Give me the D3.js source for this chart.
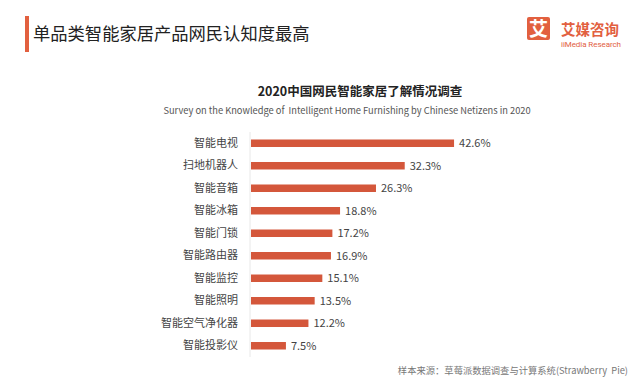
<!DOCTYPE html>
<html>
<head>
<meta charset="utf-8">
<script src="https://cdn.jsdelivr.net/npm/d3@7"></script>
<style>
  body { margin: 0; background: #fff; }
  svg { display: block; font-family: "Noto Sans CJK SC", "Noto Sans", sans-serif; }
  text { white-space: pre; }
</style>
</head>
<body>
<div id="chart"></div>
<script>
// data
var categories = ["智能电视", "扫地机器人", "智能音箱", "智能冰箱", "智能门锁", "智能路由器", "智能监控", "智能照明", "智能空气净化器", "智能投影仪"];
var values = [42.6, 32.3, 26.3, 18.8, 17.2, 16.9, 15.1, 13.5, 12.2, 7.5];

var width = 640, height = 383;
var barColor = "#d4573b";

var svg = d3.select("#chart").append("svg")
    .attr("width", width)
    .attr("height", height);

svg.append("rect").attr("width", width).attr("height", height).attr("fill", "#fff");

// header
svg.append("rect")
    .attr("x", 25).attr("y", 16).attr("width", 4).attr("height", 36)
    .attr("fill", "#e2603f");
svg.append("text")
    .attr("x", 33).attr("y", 40)
    .attr("font-size", 17.3)
    .attr("fill", "#222")
    .text("单品类智能家居产品网民认知度最高");

// logo
var logo = svg.append("g");
logo.append("rect")
    .attr("x", 527).attr("y", 17).attr("width", 23).attr("height", 23).attr("rx", 2)
    .attr("fill", "#e2603f");
logo.append("text")
    .attr("x", 538.5).attr("y", 35.5)
    .attr("text-anchor", "middle")
    .attr("font-size", 19).attr("font-weight", "bold")
    .attr("fill", "#fff")
    .text("艾");
logo.append("text")
    .attr("x", 561).attr("y", 34.5)
    .attr("font-size", 14.5).attr("font-weight", "bold")
    .attr("fill", "#e2603f")
    .text("艾媒咨询");
logo.append("text")
    .attr("x", 561).attr("y", 46.5)
    .attr("font-size", 8)
    .attr("font-family", "Roboto, sans-serif")
    .attr("textLength", 60)
    .attr("fill", "#e2603f")
    .text("iiMedia Research");

// chart titles
svg.append("text")
    .attr("x", 360).attr("y", 96)
    .attr("text-anchor", "middle")
    .attr("font-size", 12.5).attr("font-weight", "bold")
    .attr("fill", "#222")
    .text("2020中国网民智能家居了解情况调查");
svg.append("text")
    .attr("x", 347).attr("y", 114)
    .attr("text-anchor", "middle")
    .attr("font-size", 9.3)
    .attr("fill", "#555")
    .text("Survey on the Knowledge of  Intelligent Home Furnishing by Chinese Netizens in 2020");

// scales
var x = d3.scaleLinear().domain([0, 50]).range([250, 489.5]);
var y = d3.scaleBand().domain(categories).range([132, 357]).paddingInner(0.667).paddingOuter(0.333);

// axis line
svg.append("line")
    .attr("x1", x(0)).attr("x2", x(0))
    .attr("y1", 132).attr("y2", 357)
    .attr("stroke", "#e8e8e8").attr("stroke-width", 1);

// category labels
var yAxis = svg.append("g")
    .attr("transform", "translate(" + (x(0) - 12) + ",0)")
    .call(d3.axisLeft(y).tickSize(0).tickPadding(0));
yAxis.select(".domain").remove();
yAxis.selectAll("text")
    .attr("font-size", 11)
    .attr("fill", "#444")
    .attr("font-family", "Noto Sans CJK SC, sans-serif");

// bars
svg.selectAll(".bar")
    .data(values)
    .enter().append("rect")
    .attr("class", "bar")
    .attr("x", x(0) + 1)
    .attr("y", function(d, i) { return y(categories[i]); })
    .attr("width", function(d) { return x(d) - x(0) - 1; })
    .attr("height", y.bandwidth())
    .attr("fill", barColor);

// value labels
svg.selectAll(".val")
    .data(values)
    .enter().append("text")
    .attr("class", "val")
    .attr("x", function(d) { return x(d) + 5; })
    .attr("y", function(d, i) { return y(categories[i]) + y.bandwidth() / 2; })
    .attr("dy", "0.35em")
    .attr("font-size", 11)
    .attr("fill", "#444")
    .text(function(d) { return d.toFixed(1) + "%"; });

// source
svg.append("text")
    .attr("x", 628).attr("y", 374)
    .attr("text-anchor", "end")
    .attr("font-size", 9.3)
    .attr("fill", "#777")
    .text("样本来源：草莓派数据调查与计算系统(Strawberry  Pie)");
</script>
</body>
</html>
